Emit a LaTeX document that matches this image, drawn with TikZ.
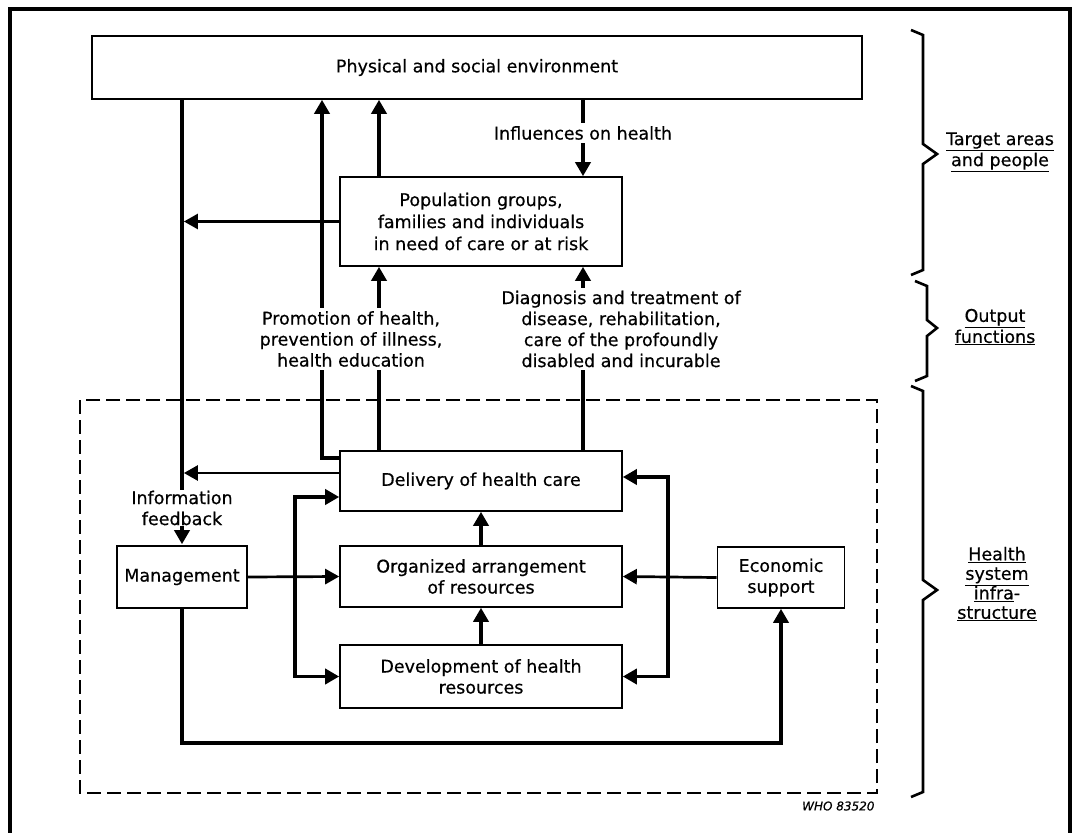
\documentclass[tikz,border=0pt]{standalone}
\usepackage{fontspec}
\setmainfont{DejaVu Sans}[FakeBold=0.5]
\usetikzlibrary{arrows.meta}

\newcommand\dgfont{\fontsize{17.5}{21}\selectfont}

\tikzset{
  box/.style={draw, line width=1.6pt, inner sep=0pt, align=center, font=\dgfont},
  lbl/.style={align=center, font=\dgfont, inner sep=3pt},
  cutlbl/.style={lbl, fill=white},
  fat/.style={line width=3.8pt},
  mid/.style={line width=2.7pt},
  >={Triangle[width=15pt,length=14pt]},
  brace/.style={line width=2.6pt, line join=miter},
  frame/.style={line width=3.6pt},
  infra/.style={draw, line width=1.4pt, dash pattern=on 14pt off 6pt},
}

\begin{document}
\begin{tikzpicture}[x=1pt, y=-1pt]
\useasboundingbox (0,0) rectangle (1075,832);
\clip (0,0) rectangle (1075,832);

% outer frame (open at the bottom)
\draw[frame] (10,845) -- (10,9) -- (1070,9) -- (1070,845);

% dashed frame of the health system infrastructure
\draw[infra] (80,400) rectangle (877,793);

% boxes
\node[box, minimum width=770pt, minimum height=63pt] (phys) at (477,67.5) {Physical and social environment};
\node[box, minimum width=282pt, minimum height=89pt, font=\fontsize{17.5}{22}\selectfont] (pop) at (481,221.5)
  {Population groups,\\families and individuals\\in need of care or at risk};
\node[box, minimum width=282pt, minimum height=60pt] (deliv) at (481,481) {Delivery of health care};
\node[box, minimum width=282pt, minimum height=61pt] (org) at (481,576.5) {Organized arrangement\\of resources};
\node[box, minimum width=282pt, minimum height=63pt] (dev) at (481,676.5) {Development of health\\resources};
\node[box, minimum width=130pt, minimum height=62pt] (mgmt) at (182,577) {Management};
\node[box, minimum width=127pt, minimum height=61pt] (econ) at (781,577.5) {Economic\\support};

% column and row positions of the connectors
\coordinate (cB) at (322,0);
\coordinate (cC) at (379,0);
\coordinate (cD) at (583,0);
\coordinate (cL) at (295,0);
\coordinate (cR) at (668,0);
\coordinate (bot) at (0,743);
\coordinate (dOut) at ([yshift=8pt]deliv.west);
\coordinate (dUp) at ([yshift=23pt]deliv.west);
\coordinate (dInL) at ([yshift=-16pt]deliv.west);
\coordinate (dInR) at ([yshift=4pt]deliv.east);

% information feedback line to management
\draw[fat,->] (phys.south -| mgmt.north) -- ([yshift=1pt]mgmt.north);
\draw[mid,->,shorten >=1.9pt] (pop.west) -- (pop.west -| mgmt.north);
\draw[mid,->,shorten >=1.9pt] (dOut) -- (dOut -| mgmt.north);

% effects on the environment
\draw[fat,->] (dUp) -| (phys.south -| cB);
\draw[fat,->] (pop.north -| cC) -- (phys.south -| cC);
\draw[fat,->] (deliv.north -| cC) -- (pop.south -| cC);

% influences on health and care delivered
\draw[fat,->] (phys.south -| cD) -- (pop.north -| cD);
\draw[fat,->] (deliv.north -| cD) -- (pop.south -| cD);

% inside the infrastructure
\draw[fat,->] (org.north) -- (deliv.south);
\draw[fat,->] (dev.north) -- (org.south);
\draw[mid,->] (mgmt.east) -- (org.west);
\draw[mid,->] (econ.west) -- (org.east);
\draw[fat,<->] (dInL) -- (dInL -| cL) -- (dev.west -| cL) -- (dev.west);
\draw[fat,<->] (dInR) -- (dInR -| cR) -- (dev.east -| cR) -- (dev.east);
\draw[fat,->] (mgmt.south) -- (mgmt.south |- bot) -- (econ.south |- bot) -- (econ.south);

% labels set over the lines
\node[cutlbl] (infl) at (583,133) {Influences on health};
\node[cutlbl] (promo) at (351,339) {Promotion of health,\\prevention of illness,\\health education};
\node[cutlbl] (diag) at (621,329) {Diagnosis and treatment of\\disease, rehabilitation,\\care of the profoundly\\disabled and incurable};
\node[cutlbl, inner sep=1pt] (info) at (182,508) {Information\\feedback};

% braces and their captions
\draw[brace] (911,30) -- (923,35) -- (923,144) -- (937,154) -- (923,164) -- (923,270) -- (911,275);
\draw[brace] (915,281) -- (927,286) -- (927,320) -- (937,328) -- (927,336) -- (927,376) -- (915,381);
\draw[brace] (911,386) -- (923,391) -- (923,580) -- (937,590) -- (923,600) -- (923,792) -- (911,797);

\node[lbl] (tgt) at (1000,152) {\underline{Target areas}\\\underline{and people}};
\node[lbl] (outf) at (995,327) {\underline{Output}\\\underline{functions}};
\node[lbl, font=\fontsize{17.5}{19.5}\selectfont] (hsi) at (997,584) {\underline{Health}\\\underline{system}\\\underline{infra}-\\\underline{structure}};

\node[anchor=east, font=\itshape\fontsize{12}{14}\selectfont] (who) at (878,806) {WHO 83520};
\end{tikzpicture}
\end{document}
